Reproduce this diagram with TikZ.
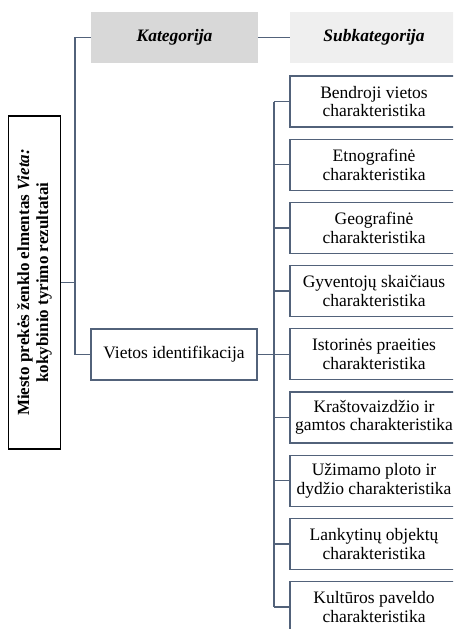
\documentclass[tikz,border=0pt]{standalone}
\usepackage{fontspec}
\setmainfont{Liberation Serif}
\definecolor{slate}{HTML}{52627A}
\definecolor{katfill}{HTML}{D8D8D8}
\definecolor{subfill}{HTML}{EFEFEF}
\tikzset{
  link/.style={draw=slate, line width=1.4pt},
  header/.style={minimum width=167pt, minimum height=51pt, inner sep=0pt,
    font=\fontsize{17.5}{19}\selectfont\bfseries\itshape},
  itembox/.style={draw=slate, line width=1.2pt, minimum width=168pt, minimum height=51pt,
    inner sep=0pt, align=center, font=\fontsize{17.5}{18.5}\selectfont},
  rootbox/.style={draw=black, line width=1.4pt, rotate=90, minimum width=333pt,
    minimum height=52pt, inner sep=0pt, align=center,
    font=\fontsize{17}{19}\selectfont\bfseries},
}
\begin{document}
\begin{tikzpicture}[x=1pt,y=-1pt]
\useasboundingbox (0,0) rectangle (453,629);
\clip (0,0) rectangle (453,629);

% root title, rotated
\node[rootbox] (root) at (34.5,282.5)
  {Miesto prekės ženklo elmentas \textit{Vieta:}\\kokybinio tyrimo rezultatai};

% column headers
\node[header, fill=katfill] (kat) at (174.5,37.5) {Kategorija};
\node[header, fill=subfill, minimum width=168pt] (sub) at (374,37.5) {Subkategorija};

% category
\node[itembox, minimum width=166pt] (vid) at (174,354.5) {Vietos identifikacija};

% subcategories
\foreach \i/\t in {
  1/{Bendroji vietos\\charakteristika},
  2/{Etnografinė\\charakteristika},
  3/{Geografinė\\charakteristika},
  4/{Gyventojų skaičiaus\\charakteristika},
  5/{Istorinės praeities\\charakteristika},
  6/{Kraštovaizdžio ir\\gamtos charakteristika},
  7/{Užimamo ploto ir\\dydžio charakteristika},
  8/{Lankytinų objektų\\charakteristika},
  9/{Kultūros paveldo\\charakteristika}}
  \node[itembox] (s\i) at (374,{101.5+63.2*(\i-1)}) {\t};

% trunk coordinates
\coordinate (trunkA) at (75,0);
\coordinate (trunkB) at (274,0);

% root to categories
\draw[link] (root.south) -- (root.south -| trunkA);
\draw[link] (kat.west) -- (kat.west -| trunkA) -- (vid.west -| trunkA) -- (vid.west);
\draw[link] (kat.east) -- (sub.west);

% category to subcategories
\draw[link] (vid.east) -- (vid.east -| trunkB);
\draw[link] (s1.west -| trunkB) -- (s9.west -| trunkB);
\foreach \i in {1,...,9}
  \draw[link] (s\i.west) -- (s\i.west -| trunkB);
\end{tikzpicture}
\end{document}
